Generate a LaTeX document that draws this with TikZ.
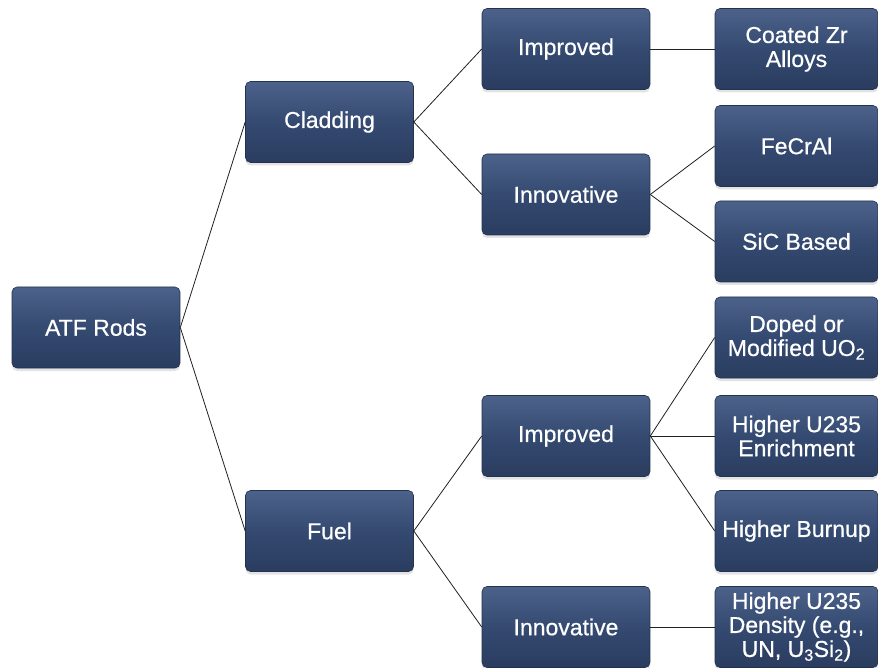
\documentclass[tikz,border=0pt]{standalone}
\usepackage{fontspec}
\setmainfont{Liberation Sans}
\usetikzlibrary{shadows}
\definecolor{boxtop}{HTML}{4C628A}
\definecolor{boxmid}{HTML}{354A71}
\definecolor{boxbot}{HTML}{2A3D60}
\definecolor{boxedge}{HTML}{22324F}
\definecolor{linecol}{HTML}{202020}
\tikzset{
  tbox/.style={rectangle, rounded corners=5pt, inner sep=0pt,
    top color=boxtop, bottom color=boxbot, middle color=boxmid,
    draw=boxedge, line width=0.6pt,
    drop shadow={shadow xshift=0pt, shadow yshift=-3pt, opacity=0.18, fill=black!60},
    text=white, align=center,
    font=\fontsize{23}{24}\selectfont\addfontfeature{FakeBold=0.6},
    minimum height=81pt},
  colA/.style={tbox, minimum width=168pt},
  colC/.style={tbox, minimum width=163pt},
  conn/.style={draw=linecol, line width=0.8pt}
}
\begin{document}
\begin{tikzpicture}[x=1pt, y=-1pt]
\useasboundingbox (0,0) rectangle (878,668);
\node[colA] (atf) at (96,327.5) {ATF Rods};
\node[colA] (clad) at (329.5,122) {Cladding};
\node[colA] (fuel) at (329.5,531) {Fuel};
\node[colA] (imp1) at (566,49) {Improved};
\node[colA] (inn1) at (566,194.5) {Innovative};
\node[colA] (imp2) at (566,436) {Improved};
\node[colA] (inn2) at (566,627) {Innovative};
\node[colC] (coated) at (796.5,49) {Coated Zr\\Alloys};
\node[colC] (fecral) at (796.5,146) {FeCrAl};
\node[colC] (sic) at (796.5,241.5) {SiC Based};
\node[colC] (doped) at (796.5,337.5) {Doped or\\Modified UO\textsubscript{2}};
\node[colC] (enrich) at (796.5,436) {Higher U235\\Enrichment};
\node[colC] (burnup) at (796.5,531) {Higher Burnup};
\node[colC] (density) at (796.5,627) {Higher U235\\Density (e.g.,\\UN, U\textsubscript{3}Si\textsubscript{2})};
\draw[conn] (atf.east) -- (clad.west);
\draw[conn] (atf.east) -- (fuel.west);
\draw[conn] (clad.east) -- (imp1.west);
\draw[conn] (clad.east) -- (inn1.west);
\draw[conn] (fuel.east) -- (imp2.west);
\draw[conn] (fuel.east) -- (inn2.west);
\draw[conn] (imp1.east) -- (coated.west);
\draw[conn] (inn1.east) -- (fecral.west);
\draw[conn] (inn1.east) -- (sic.west);
\draw[conn] (imp2.east) -- (doped.west);
\draw[conn] (imp2.east) -- (enrich.west);
\draw[conn] (imp2.east) -- (burnup.west);
\draw[conn] (inn2.east) -- (density.west);
\end{tikzpicture}
\end{document}
